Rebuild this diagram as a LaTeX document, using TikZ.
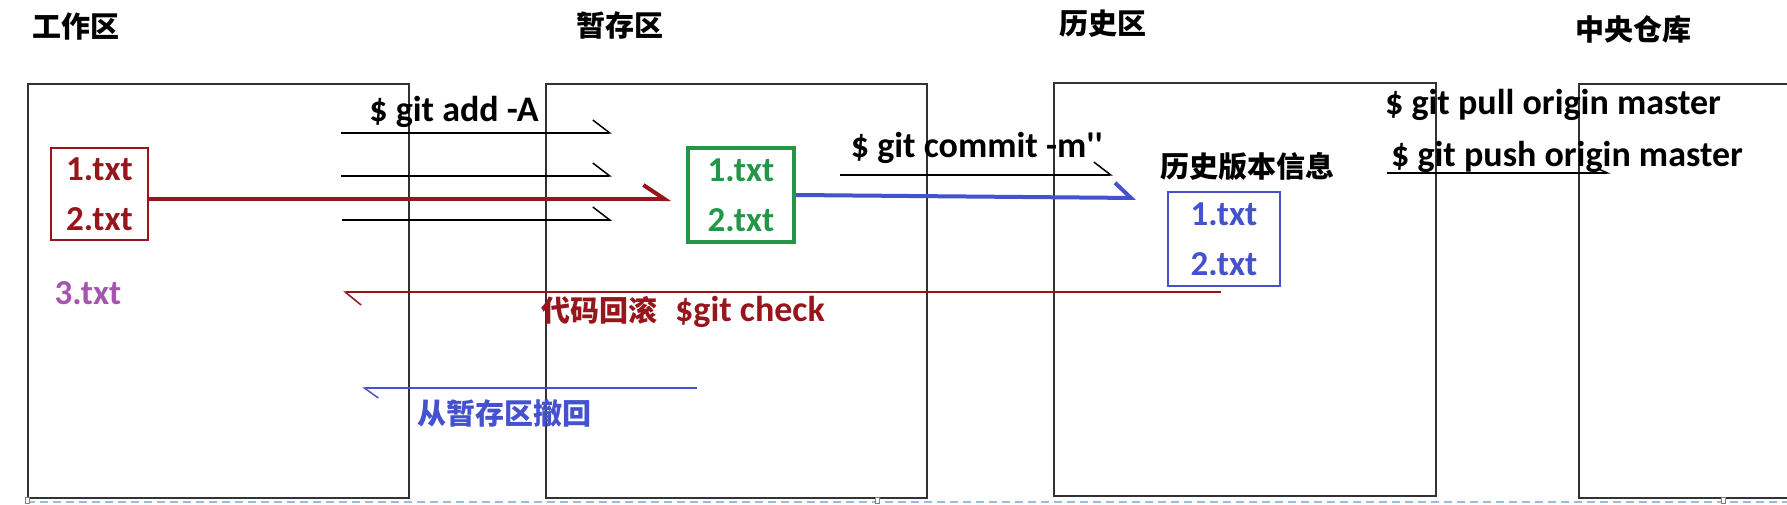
\documentclass[tikz,border=0pt]{standalone}
\usepackage{fontspec}
\setmainfont{Carlito}[Ligatures=TeXOff]
\newfontfamily\cjk{Noto Sans CJK SC}
\usetikzlibrary{arrows.meta}
\definecolor{fileRed}{RGB}{150,22,28}
\definecolor{fileGreen}{RGB}{36,150,72}
\definecolor{fileBlue}{RGB}{68,82,205}
\definecolor{filePurple}{RGB}{165,85,175}
\definecolor{pageBlue}{RGB}{150,190,228}
\definecolor{boxGray}{RGB}{50,50,50}
\newcommand\zh[1]{{\cjk\bfseries\fontsize{29}{35}\selectfont #1}}

\begin{document}
\begin{tikzpicture}[x=1pt, y=-1pt,
    area/.style = {draw=boxGray, line width=2pt, anchor=north west, inner sep=0pt},
    cmd/.style = {font=\bfseries\fontsize{36}{40}\selectfont, inner sep=0pt},
    files/.style = {align=center, inner sep=0pt, font=\bfseries\fontsize{35}{50}\selectfont},
    barb/.style = {-{Straight Barb[harpoon, length=#1, width=26pt]}}]
            \useasboundingbox (0,0) rectangle (1787,505);

            %Areas
            \node [area, minimum width=381pt, minimum height=414pt]
            (work)at(27,83){};
            \node [area, minimum width=381pt, minimum height=414pt]
            (stage)at(545,83){};
            \node [area, minimum width=382pt, minimum height=413pt]
            (hist)at(1053,82){};
            \node [area, minimum width=240pt, minimum height=414pt]
            (remote)at(1578,83){};

            %Titles
            \node (workT)at(76,27){\zh{工作区}};
            \node (stageT)at(620,25){\zh{暂存区}};
            \node (histT)at(1103,24){\zh{历史区}};
            \node (remoteT)at(1633,29){\zh{中央仓库}};

            %Files
            \node [files, draw=fileRed, line width=1.5pt, text=fileRed, minimum width=97pt, minimum height=92pt]
            (wfiles)at(99.5,194){1.txt\\2.txt};
            \node [files, text=filePurple]
            (wnew)at(88,293){3.txt};
            \node [files, draw=fileGreen, line width=4pt, text=fileGreen, minimum width=106pt, minimum height=94pt]
            (sfiles)at(741,195){1.txt\\2.txt};
            \node [files, draw=fileBlue, line width=1.5pt, text=fileBlue, minimum width=112pt, minimum height=94pt]
            (hfiles)at(1224,239){1.txt\\2.txt};
            \node (hinfo)at(1247,167){\zh{历史版本信息}};

            %Commands
            \node [cmd] (addT)at(454,112){\$ git add -A};
            \node [cmd] (commitT)at(977,148){\$ git commit -m''};
            \node [cmd] (pullT)at(1553,105){\$ git pull origin master};
            \node [cmd] (pushT)at(1567,157){\$ git push origin master};
            \node [cmd, text=fileRed] (backT)at(683,312){\zh{代码回滚}\hspace{18pt}\$git check};
            \node [inner sep=0pt, text=fileBlue] (undoT)at(504,413){\zh{从暂存区撤回}};

            %Arrow ends
            \coordinate (add1a)at(341,133); \coordinate (add1b)at(612,133);
            \coordinate (add2a)at(341,176); \coordinate (add2b)at(612,176);
            \coordinate (add3a)at(342,220); \coordinate (add3b)at(612,220);
            \coordinate (comA)at(840,175); \coordinate (comB)at(1113,175);
            \coordinate (pushA)at(1387,173); \coordinate (pushB)at(1611,173);
            \coordinate (toStage)at(671,199);
            \coordinate (toHist)at(1136,198);
            \coordinate (backA)at(1221,292); \coordinate (backB)at(343,292);
            \coordinate (undoA)at(697,388); \coordinate (undoB)at(362,388);

            \draw [barb=17pt, line width=1.5pt](add1a)--(add1b);
            \draw [barb=17pt, line width=1.5pt](add2a)--(add2b);
            \draw [barb=17pt, line width=1.5pt](add3a)--(add3b);
            \draw [barb=17pt, line width=1.5pt](comA)--(comB);
            \draw [-{Straight Barb[harpoon, length=9pt, width=8pt]}, line width=1.5pt](pushA)--(pushB);
            \draw [-{Straight Barb[harpoon, length=21pt, width=28pt]}, fileRed, line width=4pt]
            ([yshift=-5pt]wfiles.east)--(toStage);
            \draw [-{Straight Barb[harpoon, length=16pt, width=30pt]}, fileBlue, line width=4pt]
            (sfiles.east)--(toHist);
            \draw [barb=16pt, fileRed, line width=1.5pt](backA)--(backB);
            \draw [-{Straight Barb[harpoon, length=14pt, width=20pt]}, fileBlue, line width=1.5pt](undoA)--(undoB);

            %Page edge
            \draw [pageBlue, line width=1.5pt, dash pattern=on 8pt off 5pt](27,502)--(1787,502);
            \draw [gray, line width=0.8pt, fill=white](25,497) rectangle (29,503);
            \draw [gray, line width=0.8pt, fill=white](875,497) rectangle (879,503);
            \draw [gray, line width=0.8pt, fill=white](1721,497) rectangle (1725,503);

        \end{tikzpicture}
\end{document}
